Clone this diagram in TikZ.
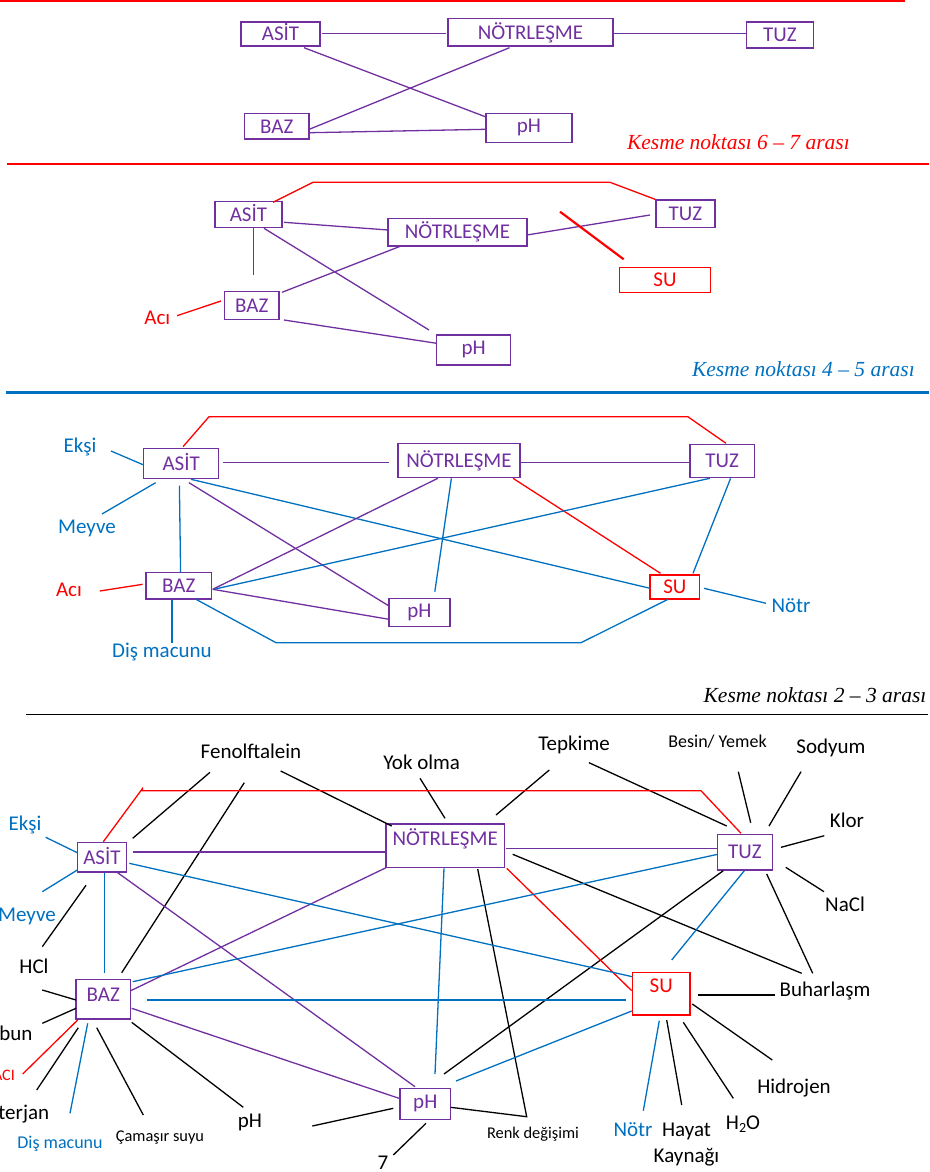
\documentclass[tikz,border=0pt]{standalone}
\usepackage{fontspec}
\setmainfont{Carlito}
\newfontfamily\tms{Liberation Serif}
\usetikzlibrary{calc}
\definecolor{purp}{RGB}{112,48,160}
\definecolor{blu}{RGB}{0,112,192}
\definecolor{rd}{RGB}{255,0,0}
\newcommand\fsz[1]{\fontsize{#1}{#1}\selectfont}
\tikzset{
  pl/.style={draw=purp, line width=1.3pt},
  bl/.style={draw=blu, line width=1.3pt},
  rl/.style={draw=rd, line width=1.3pt},
  kl/.style={draw=black, line width=1.3pt},
  pbox/.style={draw=purp, line width=1.3pt, inner sep=0pt, text=purp, font=\fsz{21}, text height=13.5pt, text depth=0pt},
  rbox/.style={draw=rd, line width=1.3pt, inner sep=0pt, text=rd, font=\fsz{21}, text height=13.5pt, text depth=0pt},
  phbox/.style={pbox, text depth=4pt},
  lbl/.style={inner sep=0pt, font=\fsz{21}},
  lbls/.style={inner sep=0pt, font=\fsz{18}},
  lblxs/.style={inner sep=0pt, font=\fsz{16.4}},
  kesme/.style={inner sep=0pt, font=\tms\itshape\fsz{21.5}}
}
\begin{document}
\begin{tikzpicture}[x=1pt,y=-1pt]
\useasboundingbox (0,0) rectangle (929,1172);
% separators
\draw[rd, line width=1.5pt] (0,1.2) -- (905,1.2);
\draw[rd, line width=1.5pt] (7,164) -- (929,164);
\draw[blu, line width=2.5pt] (6,392.7) -- (929,392.7);
\draw[black, line width=1.3pt] (26,714.3) -- (928,714.3);

% ---------------- Section 1
\node[pbox,minimum width=79,minimum height=24] (a1) at (280.5,34) {ASİT};
\node[pbox,minimum width=165,minimum height=27.5] (n1) at (530.5,32.3) {NÖTRLEŞME};
\node[pbox,minimum width=67.5,minimum height=26] (t1) at (780,35) {TUZ};
\node[pbox,minimum width=64.5,minimum height=25.5] (b1) at (276.8,126.3) {BAZ};
\node[phbox,minimum width=86,minimum height=29] (p1) at (529,128) {pH};
\draw[pl] ($(a1.center)+(41.5,-0.7)$) -- ($(n1.center)+(-85,1)$);
\draw[pl] ($(n1.center)+(82.5,1)$) -- ($(t1.center)+(-34.5,-1.7)$);
\draw[pl] ($(a1.center)+(23.5,13.7)$) -- ($(p1.center)+(-43,-11)$);
\draw[pl] ($(n1.center)+(-21,15.4)$) -- ($(b1.center)+(33.2,2.7)$);
\draw[pl] ($(b1.center)+(33.2,6.4)$) -- ($(p1.center)+(-43,1.3)$);
\node[kesme, text=rd, anchor=east] (k1) at (850,141.7) {Kesme noktası 6 – 7 arası};

% ---------------- Section 2
\node[pbox,minimum width=67,minimum height=26] (a2) at (248.5,214.7) {ASİT};
\node[pbox,minimum width=139,minimum height=27.7] (n2) at (457.5,232.2) {NÖTRLEŞME};
\node[pbox,minimum width=59,minimum height=27.3] (t2) at (685.5,213.7) {TUZ};
\node[rbox,minimum width=91,minimum height=25.4] (s2) at (665,280) {SU};
\node[pbox,minimum width=54.5,minimum height=27.6] (b2) at (251.8,305.5) {BAZ};
\node[phbox,minimum width=74.2,minimum height=30] (p2) at (473.7,350) {pH};
\node[lbl, text=rd] (ac2) at (157.3,318) {Acı};
\draw[rl] ($(a2.center)+(24.5,-12.4)$) -- ++(40,-20) -- ++(297,0) -- (t2.north west);
\draw[pl] ($(a2.center)+(35.5,7.6)$) -- ($(n2.center)+(-69.5,-2.2)$);
\draw[pl] ($(n2.center)+(69.5,2.8)$) -- ($(t2.center)+(-35.5,1.3)$);
\draw[pl] ($(a2.center)+(5.1,13.6)$) -- ++(0,46.7);
\draw[pl] ($(a2.center)+(15.5,13.6)$) -- ($(p2.center)+(-44.7,-20)$);
\draw[pl] ($(n2.center)+(-56.5,13.8)$) -- ($(b2.center)+(30.2,-13.2)$);
\draw[pl] ($(b2.center)+(32.2,14.5)$) -- ($(p2.center)+(-37.1,-6.7)$);
\draw[rd, line width=2.2pt] ($(s2.center)+(-105,-68.3)$) -- ($(s2.center)+(-41.3,-20.7)$);
\draw[rl] ($(ac2.center)+(19.7,-2.3)$) -- ($(b2.center)+(-30.8,-4.5)$);
\node[kesme, text=blu, anchor=east] (k2) at (915,369.3) {Kesme noktası 4 – 5 arası};

% ---------------- Section 3
\node[pbox,minimum width=75,minimum height=30] (a3) at (181.2,463.3) {ASİT};
\node[pbox,minimum width=122,minimum height=34] (n3) at (459,460.3) {NÖTRLEŞME};
\node[pbox,minimum width=64.4,minimum height=33] (t3) at (722.2,460.8) {TUZ};
\node[pbox,minimum width=65.5,minimum height=26.3] (b3) at (178.8,585.8) {BAZ};
\node[phbox,minimum width=61,minimum height=28.4] (p3) at (419.5,612.5) {pH};
\node[rbox,minimum width=49.7,minimum height=24] (s3) at (674.9,587) {SU};
\node[lbl,text=blu] (ek3) at (80,447.3) {Ekşi};
\node[lbl,text=blu] (me3) at (87,528.3) {Meyve};
\node[lbl,text=rd] (ac3) at (69,590) {Acı};
\node[lbl,text=blu] (di3) at (162,651.7) {Diş macunu};
\node[lbl,text=blu] (no3) at (791,606) {Nötr};
\draw[rl] ($(a3.center)+(1.8,-16.6)$) -- ++(26,-30) -- ++(478.8,0) -- ($(t3.center)+(3.8,-17.5)$);
\draw[pl] ($(a3.center)+(41.8,-0.6)$) -- ($(n3.center)+(-70,2.4)$);
\draw[pl] ($(n3.center)+(61,2.4)$) -- ($(t3.center)+(-32.2,1.9)$);
\draw[bl] ($(ek3.center)+(31,3.7)$) -- ($(a3.center)+(-37.5,1.7)$);
\draw[bl] ($(me3.center)+(15,-14.3)$) -- ($(a3.center)+(-25.6,19.4)$);
\draw[bl] ($(a3.center)+(-1.8,22.4)$) -- ($(b3.center)+(1.8,-13.5)$);
\draw[bl] ($(a3.center)+(9.8,16)$) -- ($(s3.center)+(-24.9,1.3)$);
\draw[pl] ($(a3.center)+(7.8,19.4)$) -- ($(p3.center)+(-30.5,-6.5)$);
\draw[pl] ($(n3.center)+(-21.2,18)$) -- ($(b3.center)+(33.9,3.5)$);
\draw[bl] ($(n3.center)+(-7.6,18)$) -- ($(p3.center)+(15.3,-20.8)$);
\draw[rl] ($(n3.center)+(54,18)$) -- ($(s3.center)+(-14.4,-13.7)$);
\draw[bl] ($(t3.center)+(-12.4,17.5)$) -- ($(b3.center)+(35,3.5)$);
\draw[bl] ($(t3.center)+(8.4,17.5)$) -- ($(s3.center)+(18.1,-13.7)$);
\draw[pl] ($(b3.center)+(33.9,3.5)$) -- ($(p3.center)+(-30.5,6.8)$);
\draw[rl] ($(ac3.center)+(30.8,1)$) -- ($(b3.center)+(-36.2,-1.5)$);
\draw[bl] ($(b3.center)+(-6.8,14.2)$) -- ($(di3.center)+(10,-8.4)$);
\draw[bl] ($(b3.center)+(17.2,13.5)$) -- ++(80,43.4) -- ++(305,0) -- ($(s3.center)+(-6.9,12.3)$);
\draw[bl] ($(s3.center)+(29.1,1.3)$) -- ($(no3.center)+(-25,-2.7)$);
\node[kesme, anchor=east] (k3) at (926.6,695) {Kesme noktası 2 – 3 arası};

% ---------------- Section 4
\node[pbox,minimum width=49.4,minimum height=29.3] (a4) at (102,857.3) {ASİT};
\node[pbox,minimum width=118.3,minimum height=43.7,text depth=14.7pt] (n4) at (445.2,845.8) {NÖTRLEŞME};
\node[pbox,minimum width=54.6,minimum height=35.7] (t4) at (745,852.2) {TUZ};
\node[pbox,minimum width=54.7,minimum height=39.7,text depth=8.5pt] (b4) at (103.3,999.2) {BAZ};
\node[phbox,minimum width=50.7,minimum height=31] (p4) at (425.3,1103.8) {pH};
\node[rbox,minimum width=57.7,minimum height=42.3,text depth=15.5pt] (s4) at (661.2,993.8) {SU};

\node[lbl] (fen) at (251,751) {Fenolftalein};
\node[lbl] (yok) at (421.7,762.7) {Yok olma};
\node[lbl] (tep) at (574,745) {Tepkime};
\node[lbls] (bes) at (717.5,741.7) {Besin/ Yemek};
\node[lbl] (sod) at (831,747.7) {Sodyum};
\node[lbl] (klo) at (847,820.7) {Klor};
\node[lbl] (nac) at (845,904) {NaCl};
\node[lbl] (buh) at (825,991) {Buharlaşm};
\node[lbl] (hid) at (794,1088.3) {Hidrojen};
\node[lbl] (h2o) at (743,1124.3) {H\raisebox{-0.25ex}{\fsz{14}2}O};
\node[lbl, align=center, font=\fontsize{21}{25.6}\selectfont] (hay) at (686.5,1144.5) {Hayat\\Kaynağı};
\node[lblxs] (ren) at (533,1134.3) {Renk değişimi};
\node[lbl, text=blu] (nt4) at (633,1130) {Nötr};
\node[lbl] (pht) at (250,1122.7) {pH};
\node[lbl] (sev) at (383,1162.5) {7};
\node[lblxs] (cam) at (160,1137.7) {Çamaşır suyu};
\node[lbls, text=blu] (dis4) at (60,1144.3) {Diş macunu};
\node[lbl, anchor=east] (det) at (49.3,1114.3) {Deterjan};
\node[lbl, anchor=east] (sab) at (32.7,1033.3) {Sabun};
\node[inner sep=0pt, font=\fsz{16}, text=rd, anchor=east] (aci4) at (15,1075) {ACI};
\node[lbl] (hcl) at (34,966.7) {HCl};
\node[lbl, text=blu] (ek4) at (25,825) {Ekşi};
\node[lbl, text=blu, anchor=east] (me4) at (56,916.7) {Meyve};

% black
\draw[kl] ($(fen.center)+(-41,21.3)$) -- ($(a4.center)+(30.7,-19)$);
\draw[kl] ($(fen.center)+(-6.7,31.7)$) -- ($(b4.center)+(18.4,-26.5)$);
\draw[kl] ($(fen.center)+(29.7,20)$) -- ($(n4.center)+(-53.5,-19.8)$);
\draw[kl] ($(yok.center)+(-1.7,15.6)$) -- ($(n4.center)+(-0.2,-27.5)$);
\draw[kl] ($(tep.center)+(-24.7,25)$) -- ($(n4.center)+(50.8,-30.8)$);
\draw[kl] ($(tep.center)+(15,17.7)$) -- ($(t4.center)+(-18.3,-26.2)$);
\draw[kl] ($(bes.center)+(20.8,30)$) -- ($(t4.center)+(5.7,-29.5)$);
\draw[kl] ($(sod.center)+(-30,24)$) -- ($(t4.center)+(24,-26.2)$);
\draw[kl] ($(klo.center)+(-22.7,15)$) -- ($(t4.center)+(36,-4.9)$);
\draw[kl] ($(nac.center)+(-21,-12.3)$) -- ($(t4.center)+(40.7,15.1)$);
\draw[kl] ($(t4.center)+(21.7,21.8)$) -- ($(buh.center)+(-12.3,-17.7)$);
\draw[kl] ($(n4.center)+(67.5,8.5)$) -- ($(buh.center)+(-23.3,-17.7)$);
\draw[kl] ($(s4.center)+(37.1,1.2)$) -- ($(buh.center)+(-50,4)$);
\draw[kl] ($(s4.center)+(31.1,10.2)$) -- ($(hid.center)+(-21.7,-28.3)$);
\draw[kl] ($(s4.center)+(22.1,28.5)$) -- ($(h2o.center)+(-9.7,-26)$);
\draw[kl] ($(s4.center)+(5.5,26.2)$) -- ($(hay.center)+(-4.8,-39.5)$);
\draw[kl] ($(t4.center)+(-21.7,18.5)$) -- ($(p4.center)+(18.7,-29.8)$);
\draw[kl] ($(n4.center)+(32.5,23.2)$) -- ($(ren.center)+(-6.3,-17.6)$) -- ($(p4.center)+(25.4,3.5)$);
\draw[kl] ($(p4.center)+(-32,4.5)$) -- ($(pht.center)+(62.3,3.3)$);
\draw[kl] ($(p4.center)+(0.7,19.5)$) -- ($(sev.center)+(10.3,-7.5)$);
\draw[kl] ($(a4.center)+(-16,28)$) -- ($(hcl.center)+(8.3,-20)$);
\draw[kl] ($(hcl.center)+(8.3,23.3)$) -- ($(b4.center)+(-27.3,0.8)$);
\draw[kl] ($(b4.center)+(-27.3,9.1)$) -- ($(sab.east)+(9.6,-10)$);
\draw[kl] ($(b4.center)+(-25,28.5)$) -- ($(det.east)+(-12.6,-24.3)$);
\draw[kl] ($(b4.center)+(-6.6,28.5)$) -- ($(cam.center)+(-16.7,-22.7)$);
\draw[kl] ($(b4.center)+(28.4,23.1)$) -- ($(pht.center)+(-6.7,-15.4)$);
% red
\draw[rl] ($(a4.center)+(1.3,-15.6)$) -- (142.5,788.5) -- (142.5,790.7) -- (701,790.7) -- ($(t4.center)+(-4,-18.9)$);
\draw[rl] ($(n4.center)+(61.5,22.5)$) -- ($(s4.center)+(-29.5,-3.1)$);
\draw[rl] ($(b4.center)+(-25.6,20.8)$) -- ($(aci4.east)+(7.7,-1)$);
% purple
\draw[pl] ($(a4.center)+(30.7,-5.3)$) -- ($(n4.center)+(-59.2,6.2)$);
\draw[pl] ($(n4.center)+(60.5,2.9)$) -- ($(t4.center)+(-27.3,-3.5)$);
\draw[pl] ($(a4.center)+(14.7,14.7)$) -- ($(p4.center)+(-10.3,-17.1)$);
\draw[pl] ($(n4.center)+(-59.2,21.9)$) -- ($(b4.center)+(27.4,-8.5)$);
\draw[pl] ($(b4.center)+(28.4,9.1)$) -- ($(p4.center)+(-26.3,-5.5)$);
% blue
\draw[bl] ($(ek4.center)+(20.7,12.3)$) -- ($(a4.center)+(-24.7,-4.6)$);
\draw[bl] ($(me4.east)+(-13.7,-25)$) -- ($(a4.center)+(-24.7,12.7)$);
\draw[bl] ($(a4.center)+(2.3,15.4)$) -- ($(b4.center)+(1,-26.5)$);
\draw[bl] ($(a4.center)+(27.3,6)$) -- ($(s4.center)+(-28.9,-17.1)$);
\draw[bl] ($(t4.center)+(-27.3,2.1)$) -- ($(b4.center)+(29.4,-17.5)$);
\draw[bl] ($(b4.center)+(44,0.8)$) -- ($(s4.center)+(-35.5,6.2)$);
\draw[bl] ($(n4.center)+(-1.2,22.5)$) -- ($(p4.center)+(9.7,-29.8)$);
\draw[bl] ($(t4.center)+(-0.7,18.5)$) -- ($(s4.center)+(10.5,-33.8)$);
\draw[bl] ($(s4.center)+(-29.5,17.2)$) -- ($(p4.center)+(30.7,-22.8)$);
\draw[bl] ($(s4.center)+(-1.9,26.9)$) -- ($(nt4.center)+(10.3,-19.3)$);
\draw[bl] ($(b4.center)+(-15.6,24.1)$) -- ($(dis4.center)+(10,-31)$);
\end{tikzpicture}
\end{document}
